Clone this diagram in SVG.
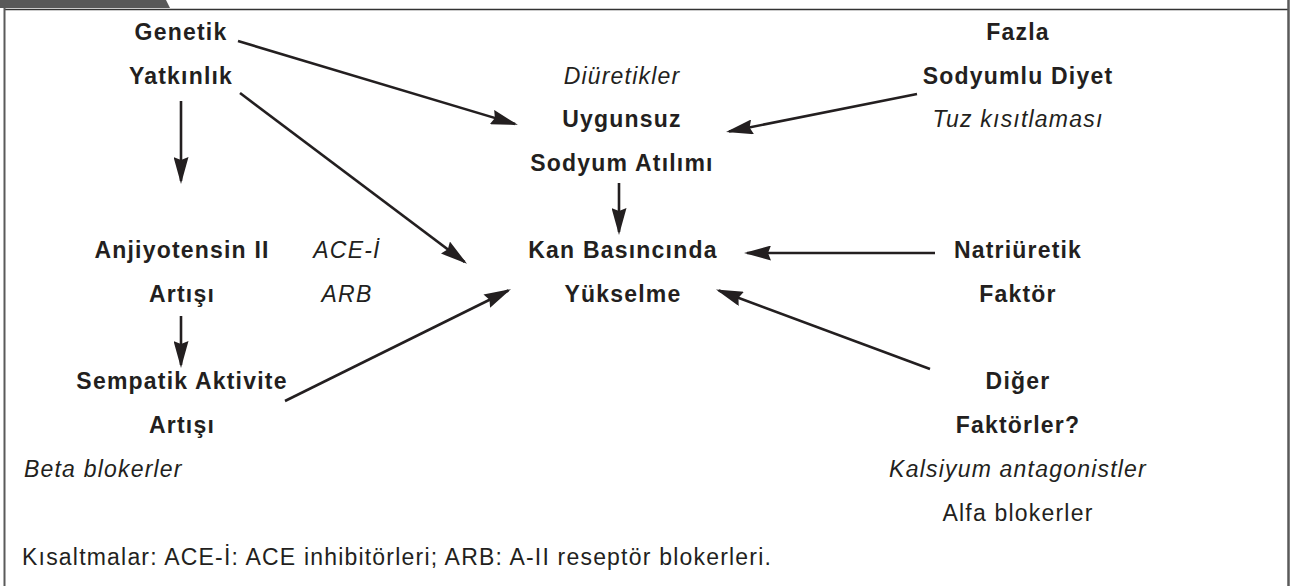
<svg xmlns="http://www.w3.org/2000/svg" width="1290" height="586" viewBox="0 0 1290 586">
<style>
text{font-family:"Liberation Sans",Arial,sans-serif;font-size:23px;fill:#231f20;letter-spacing:1.2px}
.b{font-weight:bold;text-anchor:middle}
.i{font-style:italic;text-anchor:middle}
.r{text-anchor:middle}
.l{text-anchor:start}
.c line{stroke:#231f20;stroke-width:2.6;marker-end:url(#ah)}
</style>
<defs>
<marker id="ah" viewBox="0 0 27 15" refX="24" refY="7.5" markerWidth="27" markerHeight="15" markerUnits="userSpaceOnUse" orient="auto">
<path d="M0,0 L27,7.5 L0,15 L3,7.5 Z" fill="#231f20"/>
</marker>
</defs>
<rect x="0" y="0" width="1290" height="586" fill="#ffffff"/>
<g id="frame">
<polygon points="0,0 166,0 170,8 0,8" fill="#585858"/>
<line x1="4" y1="9.5" x2="1288" y2="9.5" stroke="#333" stroke-width="1.6"/>
<line x1="4.5" y1="8" x2="4.5" y2="586" stroke="#5a5a5a" stroke-width="2"/>
<line x1="1288.5" y1="0" x2="1288.5" y2="586" stroke="#5a5a5a" stroke-width="2.5"/>
</g>
<g class="c" id="connectors">
<line x1="238" y1="41" x2="515" y2="124"/>
<line x1="240" y1="93" x2="464.6" y2="262"/>
<line x1="181" y1="101" x2="181" y2="181"/>
<line x1="181" y1="316" x2="181" y2="365"/>
<line x1="285" y1="401" x2="508.3" y2="290.5"/>
<line x1="619" y1="183" x2="619" y2="232"/>
<line x1="917" y1="94" x2="729" y2="131.5"/>
<line x1="935" y1="253" x2="747" y2="253"/>
<line x1="930" y1="369" x2="718.8" y2="290.5"/>
</g>
<g id="genetik"><text class="b" x="181" y="40">Genetik</text><text class="b" x="181" y="84">Yatkınlık</text></g>
<g id="fazla"><text class="b" x="1018" y="40">Fazla</text><text class="b" x="1018" y="84">Sodyumlu Diyet</text><text class="i" x="1018" y="127">Tuz kısıtlaması</text></g>
<g id="sodyum"><text class="i" x="622" y="84">Diüretikler</text><text class="b" x="622" y="127">Uygunsuz</text><text class="b" x="622" y="171">Sodyum Atılımı</text></g>
<g id="anjiyotensin"><text class="b" x="182" y="258">Anjiyotensin II</text><text class="b" x="182" y="302">Artışı</text></g>
<g id="ace"><text class="i" x="347" y="258">ACE-İ</text><text class="i" x="347" y="302">ARB</text></g>
<g id="kan"><text class="b" x="623" y="258">Kan Basıncında</text><text class="b" x="623" y="302">Yükselme</text></g>
<g id="natriuretik"><text class="b" x="1018" y="258">Natriüretik</text><text class="b" x="1018" y="302">Faktör</text></g>
<g id="sempatik"><text class="b" x="182" y="389">Sempatik Aktivite</text><text class="b" x="182" y="433">Artışı</text></g>
<g id="beta"><text class="i l" x="24" y="477">Beta blokerler</text></g>
<g id="diger"><text class="b" x="1018" y="389">Diğer</text><text class="b" x="1018" y="433">Faktörler?</text><text class="i" x="1018" y="477">Kalsiyum antagonistler</text><text class="r" x="1018" y="521">Alfa blokerler</text></g>
<g id="note"><text class="l" x="22" y="565">Kısaltmalar: ACE-İ: ACE inhibitörleri; ARB: A-II reseptör blokerleri.</text></g>
</svg>
